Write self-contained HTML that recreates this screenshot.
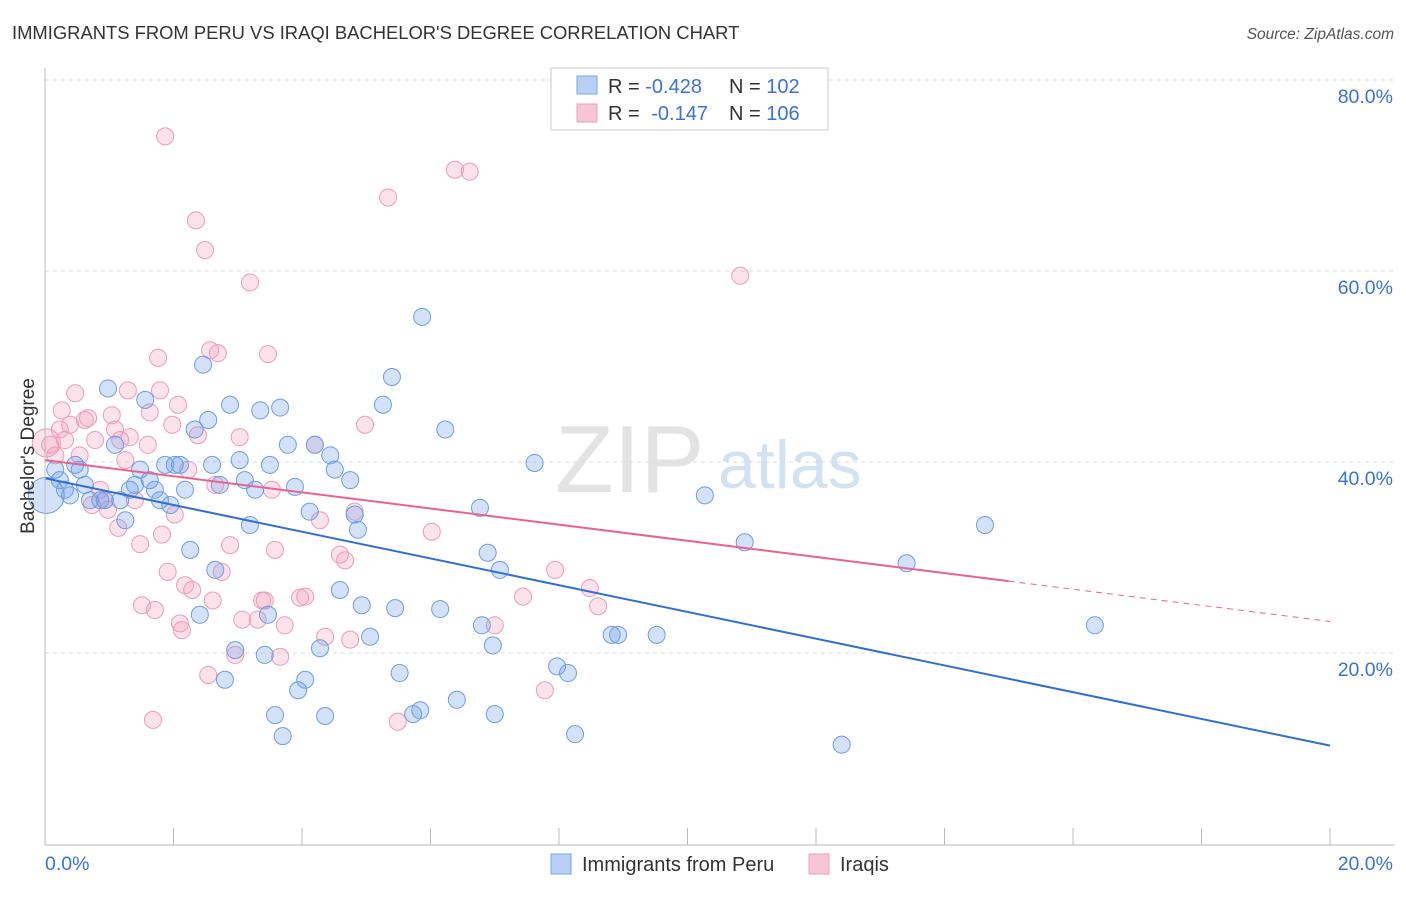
<!DOCTYPE html>
<html><head><meta charset="utf-8"><style>
body{margin:0;background:#fff;font-family:"Liberation Sans",sans-serif;}
svg text{font-family:"Liberation Sans",sans-serif;}
</style></head><body>
<svg id="chart" width="1406" height="892" viewBox="0 0 1406 892" xmlns="http://www.w3.org/2000/svg">
<text x="12" y="39" font-size="18.4" fill="#333">IMMIGRANTS FROM PERU VS IRAQI BACHELOR'S DEGREE CORRELATION CHART</text>
<text x="1394" y="39" font-size="15.5" fill="#555" text-anchor="end" font-style="italic">Source: ZipAtlas.com</text>
<g id="grid"></g>
<g>
<text x="555" y="492" font-size="96" fill="#ddd" font-family="Liberation Serif" opacity="0.8">ZIP</text>
<text x="718" y="488" font-size="68" fill="#c9dcf0" opacity="0.8">atlas</text>
</g>
<g id="points"></g>
<g id="trends"></g>
<g id="axes"></g>
<text transform="translate(34,456) rotate(-90)" font-size="19" fill="#333" text-anchor="middle">Bachelor's Degree</text>
<g>
<rect x="551" y="68" width="277" height="62" fill="#fff" stroke="#ccc"/>
<rect x="577" y="76" width="20" height="18" fill="#b8d0f3" stroke="#7aa6e6"/>
<rect x="577" y="104" width="20" height="18" fill="#f7c6d6" stroke="#ee9fbb"/>
<text x="608" y="93" font-size="20" fill="#333">R = <tspan fill="#3a72d8">-0.428</tspan><tspan x="729">N = </tspan><tspan fill="#3a72d8">102</tspan></text>
<text x="608" y="120" font-size="20" fill="#333">R = <tspan fill="#3a72d8" dx="6">-0.147</tspan><tspan x="729">N = </tspan><tspan fill="#3a72d8">106</tspan></text>
</g>
<g>
<rect x="551" y="854" width="20" height="20" fill="#b8d0f3" stroke="#7aa6e6"/>
<text x="582" y="871" font-size="20" fill="#333">Immigrants from Peru</text>
<rect x="809" y="854" width="20" height="20" fill="#f7c6d6" stroke="#ee9fbb"/>
<text x="840" y="871" font-size="20" fill="#333">Iraqis</text>
</g>
</svg>
<script>
const blueX=[0.16,0.23,0.31,0.39,0.47,0.54,0.62,0.70,0.86,0.93,0.98,1.09,1.17,1.25,1.32,1.40,1.48,1.56,1.63,1.71,1.79,1.87,1.95,2.02,2.10,2.18,2.26,2.33,2.41,2.46,2.54,2.60,2.65,2.72,2.80,2.88,2.96,3.03,3.11,3.19,3.27,3.35,3.42,3.47,3.50,3.58,3.66,3.70,3.78,3.89,3.94,4.05,4.12,4.20,4.28,4.36,4.44,4.51,4.59,4.75,4.82,4.87,4.93,5.06,5.26,5.40,5.45,5.52,5.73,5.84,5.87,6.15,6.23,6.41,6.77,6.80,6.89,6.97,7.00,7.08,7.62,7.97,8.14,8.25,8.82,8.92,9.52,10.27,10.89,12.40,13.41,14.63,16.34];
const blueY=[39.2,38.1,37.1,36.5,39.7,39.2,37.6,36.0,36.0,36.0,47.7,41.8,36.0,33.9,37.1,37.6,39.2,46.5,38.1,37.1,36.0,39.7,35.5,39.7,39.7,37.1,30.8,43.4,24.0,50.2,44.4,39.7,28.7,37.6,17.2,46.0,20.3,40.2,38.1,33.4,37.1,45.4,19.8,24.0,39.7,13.5,45.7,11.3,41.8,37.4,16.1,17.2,34.8,41.8,20.5,13.4,40.7,39.2,26.6,38.1,34.5,32.9,25.0,21.7,46.0,48.9,24.7,17.9,13.6,14.0,55.2,24.6,43.4,15.1,35.2,22.9,30.5,20.8,13.6,28.7,39.9,18.6,17.9,11.5,21.9,21.9,21.9,36.5,31.6,10.4,29.4,33.4,22.9];
const pinkX=[0.08,0.16,0.23,0.26,0.31,0.39,0.47,0.54,0.62,0.67,0.73,0.78,0.86,0.93,0.98,1.04,1.09,1.14,1.17,1.25,1.29,1.32,1.40,1.48,1.51,1.60,1.63,1.68,1.71,1.76,1.79,1.82,1.87,1.91,1.98,2.02,2.07,2.10,2.13,2.18,2.23,2.29,2.35,2.38,2.49,2.54,2.57,2.61,2.65,2.69,2.75,2.88,2.96,3.03,3.07,3.19,3.31,3.38,3.42,3.47,3.53,3.58,3.66,3.73,3.97,4.05,4.20,4.28,4.36,4.59,4.67,4.75,4.82,4.98,5.34,5.49,6.02,6.38,6.61,7.00,7.44,7.94,7.78,8.48,8.61,10.82];
const pinkY=[41.8,40.7,43.4,45.4,42.3,43.9,47.2,40.7,44.4,44.6,35.5,42.3,37.1,36.0,35.0,44.9,43.4,33.1,42.3,40.2,47.5,42.6,36.0,31.4,25.0,41.8,45.2,13.0,24.5,50.9,47.5,32.4,74.1,28.5,43.9,34.5,46.0,23.1,22.4,27.1,39.2,26.6,65.3,42.8,62.2,17.7,51.7,25.5,37.6,51.4,28.5,31.3,19.8,42.6,23.5,58.8,23.5,25.5,25.5,51.3,37.1,30.8,19.6,22.9,25.8,25.9,41.8,33.9,21.7,30.3,29.7,21.4,34.8,43.9,67.7,12.8,32.7,70.6,70.4,22.9,25.9,28.7,16.1,26.8,24.9,59.5];
const blueTrend=[38.3,10.3];
const pinkTrend=[40.2,23.3];
const pinkSolidEnd=15.0;
const yTicks=[20,40,60,80];
const yTickLabels=["20.0%","40.0%","60.0%","80.0%"];
const xTickVals=[0,2,4,6,8,10,12,14,16,18,20];

const NS="http://www.w3.org/2000/svg";
const X0=45,X1=1330,Y0=844,PPY=9.55;
const sx=v=>X0+(v/20)*(X1-X0);
const sy=v=>Y0-v*PPY;
function mk(tag,attrs,parent){const e=document.createElementNS(NS,tag);for(const k in attrs)e.setAttribute(k,attrs[k]);parent.appendChild(e);return e;}
const grid=document.getElementById('grid'),pts=document.getElementById('points'),tr=document.getElementById('trends'),ax=document.getElementById('axes');
yTicks.forEach((t,i)=>{
 const l=mk('line',{x1:X0,x2:1395,y1:sy(t),y2:sy(t),stroke:'#ddd','stroke-dasharray':'4,4'},grid);
 
 
 const tx=mk('text',{x:1393,y:sy(t)+23,'font-size':19.5,fill:'#3a72d8','text-anchor':'end'},ax);
 tx.textContent=yTickLabels[i];
 
 
});
const yl=mk('line',{x1:X0,x2:X0,y1:68,y2:845,stroke:'#bbb'},ax);


const xl=mk('line',{x1:X0,x2:1395,y1:845,y2:845,stroke:'#bbb'},ax);


xTickVals.forEach(v=>{
 const t=mk('line',{x1:sx(v),x2:sx(v),y1:828,y2:845,stroke:'#bbb'},ax);
 
 
});
const xa=mk('text',{x:45,y:870,'font-size':19.5,fill:'#3a72d8'},ax);xa.textContent='0.0%';


const xb=mk('text',{x:1393,y:870,'font-size':19.5,fill:'#3a72d8','text-anchor':'end'},ax);xb.textContent='20.0%';


function dots(xs,ys,fill,stroke,name){xs.forEach((x,i)=>{
 const c=mk('circle',{cx:sx(x),cy:sy(ys[i]),r:8.5,fill:fill,stroke:stroke,'stroke-width':1},pts);
 
 
});}
dots(pinkX,pinkY,'rgba(244,160,190,0.3)','#ec9bb9','point-iraqis');
dots(blueX,blueY,'rgba(110,160,235,0.3)','#6d9de3','point-peru');
const bb=mk('circle',{cx:sx(0.02),cy:sy(36.5),r:18,fill:'rgba(110,160,235,0.3)',stroke:'#6d9de3'},pts);


const pb=mk('circle',{cx:sx(0.02),cy:sy(42),r:14,fill:'rgba(244,160,190,0.3)',stroke:'#ec9bb9'},pts);


const bl=mk('line',{x1:sx(0),y1:sy(blueTrend[0]),x2:sx(20),y2:sy(blueTrend[1]),stroke:'#2f6fd6','stroke-width':2},tr);


const pMid=pinkTrend[0]+(pinkTrend[1]-pinkTrend[0])*pinkSolidEnd/20;
const ps=mk('line',{x1:sx(0),y1:sy(pinkTrend[0]),x2:sx(pinkSolidEnd),y2:sy(pMid),stroke:'#e8648f','stroke-width':2},tr);


const pd=mk('line',{x1:sx(pinkSolidEnd),y1:sy(pMid),x2:sx(20),y2:sy(pinkTrend[1]),stroke:'#e8648f','stroke-width':1,'stroke-dasharray':'6,5'},tr);


</script>
</body></html>
